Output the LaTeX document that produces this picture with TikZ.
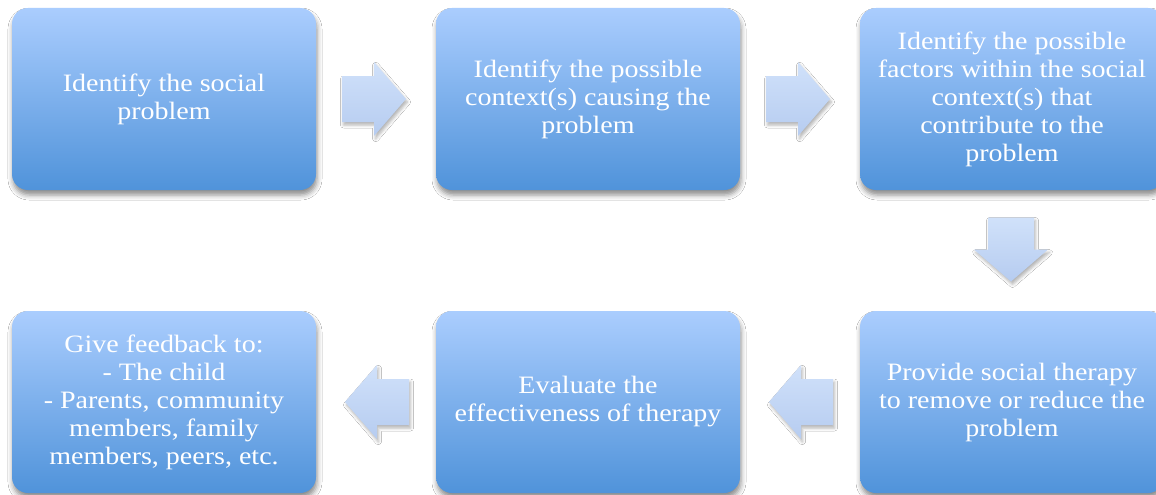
\documentclass[tikz,border=0pt]{standalone}
\usepackage{fontspec}
\setmainfont{Liberation Serif}[FakeStretch=1.12]
\usetikzlibrary{shadows.blur,calc}
\definecolor{boxtop}{RGB}{170,205,254}
\definecolor{boxbot}{RGB}{80,147,218}
\definecolor{arrtop}{RGB}{208,225,250}
\definecolor{arrbot}{RGB}{182,204,240}
\tikzset{
  stepbox/.style={rounded corners=16pt, minimum width=304pt, minimum height=182pt,
    top color=boxtop, bottom color=boxbot, draw=none,
    text=white, align=center, inner sep=4pt,
    font=\fontsize{25}{28}\selectfont,
    blur shadow={shadow xshift=1pt, shadow yshift=-5pt, shadow blur radius=5pt, shadow opacity=45}},
  blockarrow/.style={top color=arrtop, bottom color=arrbot, draw=none,
    blur shadow={shadow xshift=1.5pt, shadow yshift=-3pt, shadow blur radius=3pt, shadow opacity=30}}
}
\begin{document}
\begin{tikzpicture}[x=1pt,y=-1pt]
\useasboundingbox (0,0) rectangle (1156,495);
\clip (0,0) rectangle (1156,495);
\fill[white] (0,0) rectangle (1156,495);
\node[stepbox] (b1) at (164,99) {Identify the social\\problem};
\node[stepbox] (b2) at (588,99) {Identify the possible\\context(s) causing the\\problem};
\node[stepbox] (b3) at (1012,99) {Identify the possible\\factors within the social\\context(s) that\\contribute to the\\problem};
\node[stepbox] (b6) at (1012,402) {Provide social therapy\\to remove or reduce the\\problem};
\node[stepbox] (b5) at (588,402) {Evaluate the\\effectiveness of therapy};
\node[stepbox] (b4) at (164,402) {Give feedback to:\\- The child\\- Parents, community\\members, family\\members, peers, etc.};
% right arrows
\coordinate (a1) at ($(b1.east)!0.5!(b2.west)+(-2,0)$);
\coordinate (a2) at ($(b2.east)!0.5!(b3.west)+(-2,0)$);
\foreach \c in {a1,a2}{
  \path[blockarrow] ($(\c)+(-32,-23)$) -- ($(\c)+(0,-23)$) -- ($(\c)+(0,-37)$) -- ($(\c)+(32,0)$)
    -- ($(\c)+(0,37)$) -- ($(\c)+(0,23)$) -- ($(\c)+(-32,23)$) -- cycle;
}
% down arrow
\coordinate (a3) at ($(b3.south)!0.5!(b6.north)+(-1,-1)$);
\path[blockarrow] ($(a3)+(-23,-32)$) -- ($(a3)+(-23,0)$) -- ($(a3)+(-37,0)$) -- ($(a3)+(0,32)$)
    -- ($(a3)+(37,0)$) -- ($(a3)+(23,0)$) -- ($(a3)+(23,-32)$) -- cycle;
% left arrows
\coordinate (a4) at ($(b6.west)!0.5!(b5.east)+(1,0)$);
\coordinate (a5) at ($(b5.west)!0.5!(b4.east)+(1,0)$);
\foreach \c in {a4,a5}{
  \path[blockarrow] ($(\c)+(32,-23)$) -- ($(\c)+(0,-23)$) -- ($(\c)+(0,-37)$) -- ($(\c)+(-32,0)$)
    -- ($(\c)+(0,37)$) -- ($(\c)+(0,23)$) -- ($(\c)+(32,23)$) -- cycle;
}
\end{tikzpicture}
\end{document}
